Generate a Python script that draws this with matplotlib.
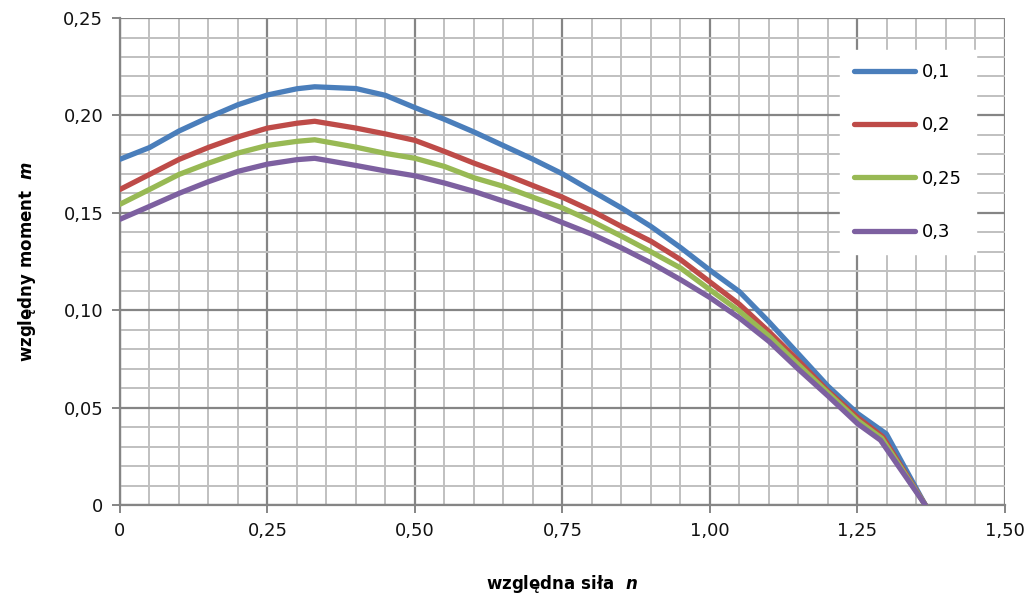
import matplotlib.pyplot as plt
from matplotlib.ticker import MultipleLocator, FuncFormatter

# względna siła n (wspólne punkty)
n_vals = [0, 0.05, 0.1, 0.15, 0.2, 0.25, 0.3, 0.33, 0.4, 0.45, 0.5, 0.55, 0.6,
          0.65, 0.7, 0.75, 0.8, 0.85, 0.9, 0.95, 1.0, 1.05, 1.1, 1.15, 1.2, 1.25]
n_end = 1.365

m_01 = [0.1775, 0.1835, 0.192, 0.199, 0.2055, 0.2105, 0.2137, 0.2147, 0.2138, 0.2103,
        0.2040, 0.1980, 0.1915, 0.1845, 0.1775, 0.1700, 0.1612, 0.1525, 0.1430, 0.1322,
        0.1205, 0.1095, 0.0940, 0.0775, 0.0610, 0.0470]
m_02 = [0.162, 0.1697, 0.1774, 0.1836, 0.189, 0.1935, 0.196, 0.197, 0.1935, 0.1905,
        0.1872, 0.1815, 0.1755, 0.170, 0.164, 0.158, 0.151, 0.143, 0.1354, 0.126,
        0.1145, 0.103, 0.089, 0.074, 0.0585, 0.045]
m_025 = [0.1544, 0.162, 0.1697, 0.1755, 0.1807, 0.1846, 0.1867, 0.1875, 0.1837, 0.1805,
         0.178, 0.1738, 0.168, 0.1636, 0.158, 0.1525, 0.1456, 0.138, 0.130, 0.1217,
         0.1105, 0.0995, 0.0867, 0.072, 0.0576, 0.0435]
m_03 = [0.1467, 0.1533, 0.160, 0.166, 0.1713, 0.175, 0.1773, 0.178, 0.1743, 0.1715,
        0.169, 0.1653, 0.161, 0.156, 0.151, 0.145, 0.139, 0.132, 0.1243, 0.1157,
        0.1065, 0.0960, 0.084, 0.0697, 0.056, 0.0418]

# załamanie przy końcu krzywych
kink_n = [1.299, 1.293, 1.291, 1.289]
kink_m = [0.0365, 0.0350, 0.0343, 0.0333]

labels = ["0,1", "0,2", "0,25", "0,3"]
colors = ["#4A7EBB", "#BE4B48", "#98B954", "#7D60A0"]

plt.rcParams['font.family'] = ['DejaVu Sans']
fig = plt.figure(figsize=(10.3, 6.01), dpi=100)
ax = fig.add_axes([0.1165, 0.1597, 0.8592, 0.8103])

for i, series in enumerate([m_01, m_02, m_025, m_03]):
    xs = n_vals + [kink_n[i], n_end]
    ys = series + [kink_m[i], 0.0]
    ax.plot(xs, ys, color=colors[i], linewidth=3.8, label=labels[i],
            solid_joinstyle='round', solid_capstyle='round', zorder=3)

ax.set_xlim(0, 1.5)
ax.set_ylim(0, 0.25)
ax.xaxis.set_major_locator(MultipleLocator(0.25))
ax.xaxis.set_minor_locator(MultipleLocator(0.05))
ax.yaxis.set_major_locator(MultipleLocator(0.05))
ax.yaxis.set_minor_locator(MultipleLocator(0.01))

def fmt(v, pos):
    if abs(v) < 1e-9:
        return "0"
    return f"{v:.2f}".replace(".", ",")

ax.xaxis.set_major_formatter(FuncFormatter(fmt))
ax.yaxis.set_major_formatter(FuncFormatter(fmt))

ax.grid(True, which='minor', color='#C0C0C0', linewidth=1.4, zorder=0)
ax.grid(True, which='major', color='#858585', linewidth=1.6, zorder=1)
ax.set_axisbelow(True)

for side in ['top', 'right']:
    ax.spines[side].set_visible(False)
for side in ['left', 'bottom']:
    ax.spines[side].set_color('#858585')
    ax.spines[side].set_linewidth(1.6)

ax.tick_params(which='major', direction='out', length=6, width=1.4, color='#858585',
               labelsize=13, pad=6, labelcolor='#111111')
ax.tick_params(which='minor', length=0)

ax.set_xlabel(r"względna siła  $\mathbfit{n}$", fontsize=12, fontweight='bold', labelpad=24)
ax.set_ylabel(r"względny moment  $\mathbfit{m}$", fontsize=12, fontweight='bold', labelpad=18)

leg = ax.legend(loc='upper right', bbox_to_anchor=(0.967, 0.935), fontsize=13,
                handlelength=3.4, handletextpad=0.4, labelspacing=1.95,
                frameon=True, fancybox=False, framealpha=1, edgecolor='white',
                borderpad=0.75, borderaxespad=0)
leg.get_frame().set_facecolor('white')

plt.savefig("out.png", dpi=100)
